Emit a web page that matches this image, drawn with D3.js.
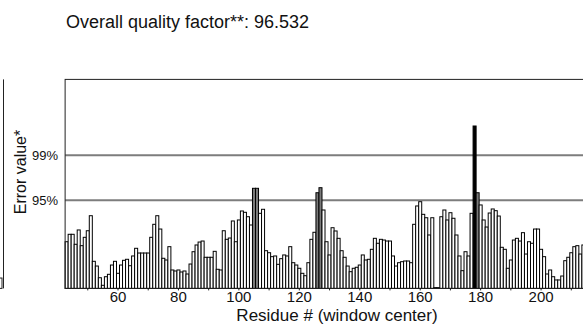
<!DOCTYPE html>
<html>
<head>
<meta charset="utf-8">
<script src="https://cdn.jsdelivr.net/npm/d3@7"></script>
<style>
  body { margin: 0; background: #fff; }
  text { font-family: "Liberation Sans", Arial, sans-serif; fill: #111; }
</style>
</head>
<body>
<div id="viz"></div>
<script>
// ERRAT-style error profile, chain segment from residue 43
var firstResidue = 43;
var errorValues = [
  6.03, 6.99, 6.99, 5.70, 7.55, 5.52, 6.60, 7.45, 9.39, 3.50,
  2.89, 1.38, 0.40, 1.51, 1.82, 3.02, 3.50, 1.95, 3.02, 3.63,
  3.76, 2.93, 4.19, 5.18, 4.57, 4.57, 4.57, 4.57, 6.60, 8.28,
  9.39, 7.67, 3.89, 3.67, 5.39, 2.38, 2.25, 2.38, 2.12, 2.25,
  1.86, 3.15, 4.74, 5.61, 5.99, 6.12, 4.02, 4.02, 4.02, 4.79,
  2.47, 2.38, 7.45, 6.34, 6.51, 8.71, 6.03, 8.84, 10.00, 9.83,
  9.26, 8.19, 12.93, 12.93, 9.70, 10.22, 4.87, 4.61, 4.10, 4.19,
  3.11, 3.84, 4.32, 4.19, 5.39, 3.32, 3.02, 2.60, 1.95, 1.64,
  3.32, 6.34, 7.25, 12.36, 13.01, 10.13, 6.03, 4.32, 7.84, 7.42,
  6.47, 4.87, 4.02, 2.89, 2.16, 2.60, 2.73, 3.02, 4.32, 3.67,
  3.76, 5.05, 6.47, 5.83, 6.34, 6.25, 6.12, 6.12, 4.19, 2.89,
  3.32, 3.45, 3.54, 3.54, 3.32, 8.28, 10.65, 11.20, 9.57, 9.13,
  6.90, 9.13, 0.10, 0.10, 9.26, 10.13, 8.84, 9.78, 9.06, 6.90,
  4.19, 2.29, 4.74, 4.19, 9.70, 20.98, 12.36, 10.78, 8.84, 7.93,
  9.74, 10.26, 10.04, 9.35, 5.31, 5.05, 2.60, 3.67, 6.25, 6.47,
  6.12, 7.20, 4.44, 6.03, 5.83, 7.67, 7.67, 5.05, 4.10, 1.86,
  2.38, 1.51, 1.09, 1.09, 1.60, 3.58, 4.02, 4.61, 5.39, 5.52,
  4.44, 5.61
];
var thresholdValues = [11.38, 17.19];
var thresholdLabels = ["95%", "99%"];
var tickResidues = [50, 60, 70, 80, 90, 100, 110, 120, 130, 140, 150, 160, 170, 180, 190, 200, 210];
var labelResidues = [60, 80, 100, 120, 140, 160, 180, 200];
// tail of the neighbouring panel, cut off at the left edge
var prevPanelTail = [1.34];

var width = 583, height = 326;
var yMax = 27;

var svg = d3.select("#viz").append("svg")
    .attr("width", width)
    .attr("height", height);

var x = d3.scaleLinear().domain([60, 210]).range([118, 571.3]);
var y = d3.scaleLinear().domain([0, yMax]).range([288.4, 79.4]);

var bars = errorValues.map(function (v, i) { return { res: firstResidue + i, val: v }; });

function barFill(v) {
    if (v > thresholdValues[1]) return "#000";
    if (v > thresholdValues[0]) return "#7a7a7a";
    return "#fff";
}

var left = x(firstResidue - 0.5);

// title
svg.append("text")
    .attr("x", 66)
    .attr("y", 28)
    .style("font-size", "18px")
    .text("Overall quality factor**: 96.532");

// neighbouring panel fragment
svg.append("line")
    .attr("x1", 3.5).attr("x2", 3.5)
    .attr("y1", y(yMax)).attr("y2", y(0))
    .attr("stroke", "#222").attr("stroke-width", 1);
svg.selectAll("rect.prev")
    .data(prevPanelTail)
    .join("rect")
    .attr("class", "prev")
    .attr("x", -1.5).attr("width", 3.5)
    .attr("y", d => y(d)).attr("height", d => y(0) - y(d))
    .attr("fill", "#fff").attr("stroke", "#222").attr("stroke-width", 1);

// threshold lines
svg.selectAll("line.thr")
    .data(thresholdValues)
    .join("line")
    .attr("class", "thr")
    .attr("x1", left).attr("x2", width + 10)
    .attr("y1", d => y(d)).attr("y2", d => y(d))
    .attr("stroke", "#7d7d7d").attr("stroke-width", 2);

svg.selectAll("text.thr")
    .data(thresholdValues)
    .join("text")
    .attr("class", "thr")
    .attr("x", 58)
    .attr("y", d => y(d))
    .attr("dy", "0.36em")
    .attr("text-anchor", "end")
    .style("font-size", "13px")
    .text((d, i) => thresholdLabels[i]);

// bars
svg.append("g")
    .selectAll("rect")
    .data(bars)
    .join("rect")
    .attr("x", d => x(d.res - 0.5))
    .attr("width", x(1) - x(0))
    .attr("y", d => y(d.val))
    .attr("height", d => y(0) - y(d.val))
    .attr("fill", d => barFill(d.val))
    .attr("stroke", "#000")
    .attr("stroke-width", 1);

// frame
svg.append("rect")
    .attr("x", left).attr("y", y(yMax))
    .attr("width", width + 20 - left)
    .attr("height", y(0) - y(yMax))
    .attr("fill", "none")
    .attr("stroke", "#222").attr("stroke-width", 1);

// x ticks
svg.selectAll("line.tick")
    .data(tickResidues)
    .join("line")
    .attr("class", "tick")
    .attr("x1", d => x(d)).attr("x2", d => x(d))
    .attr("y1", y(0)).attr("y2", y(0) + 2)
    .attr("stroke", "#222");

svg.selectAll("text.xlab")
    .data(labelResidues)
    .join("text")
    .attr("class", "xlab")
    .attr("x", d => x(d))
    .attr("y", 301.5)
    .attr("text-anchor", "middle")
    .style("font-size", "15px")
    .text(d => d);

// axis titles
svg.append("text")
    .attr("x", 337)
    .attr("y", 321)
    .attr("text-anchor", "middle")
    .style("font-size", "17px")
    .text("Residue # (window center)");

svg.append("text")
    .attr("transform", "translate(26,172) rotate(-90)")
    .attr("text-anchor", "middle")
    .style("font-size", "16px")
    .text("Error value*");
</script>
</body>
</html>
